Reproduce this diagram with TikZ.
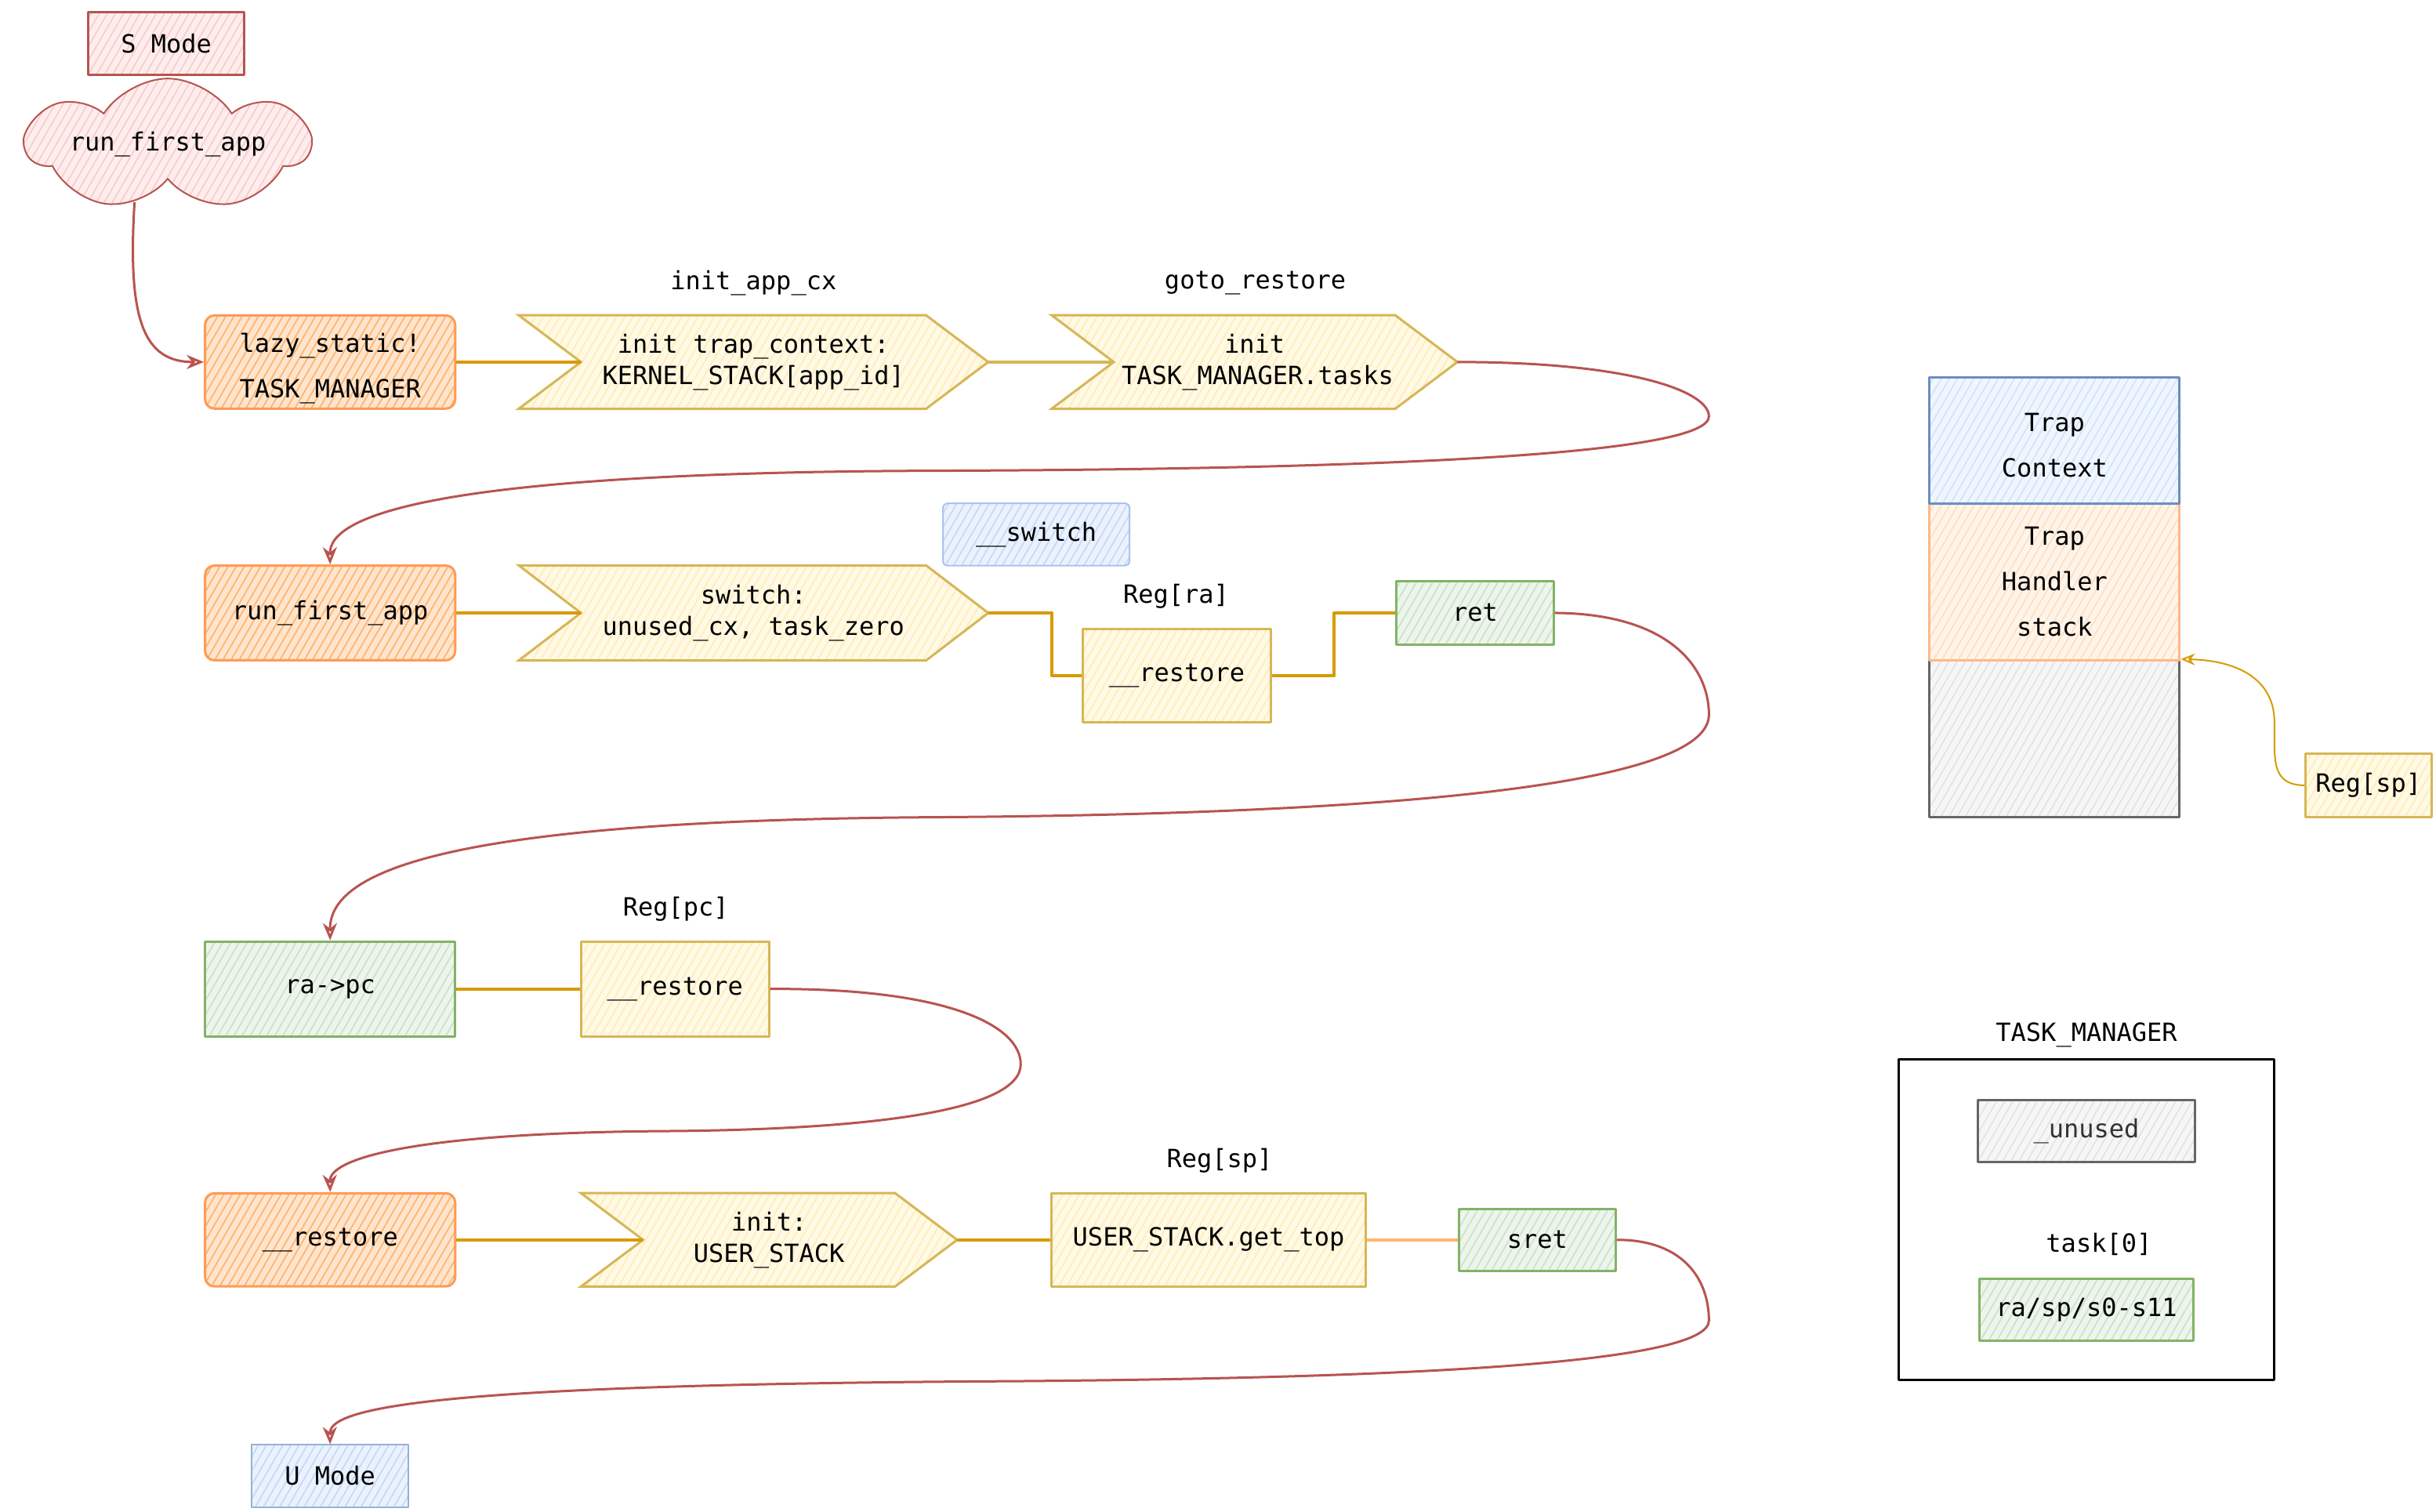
\documentclass[tikz,border=0pt]{standalone}
\usepackage{fontspec}
\setmainfont{DejaVu Sans Mono}
\usetikzlibrary{arrows.meta,shapes.symbols,calc,patterns.meta,backgrounds}

\definecolor{redS}{HTML}{B85450}
\definecolor{redF}{HTML}{F8CECC}
\definecolor{orS}{HTML}{FF9A55}
\definecolor{orF}{HTML}{FFB570}
\definecolor{ltorS}{HTML}{FFB88A}
\definecolor{ltorF}{HTML}{FFE0C2}
\definecolor{yeS}{HTML}{D6B656}
\definecolor{yeF}{HTML}{FFEDB8}
\definecolor{grS}{HTML}{82B366}
\definecolor{grF}{HTML}{CDE3CB}
\definecolor{blS}{HTML}{6C8EBF}
\definecolor{blF}{HTML}{D4E4FB}
\definecolor{lbS}{HTML}{A9C4EB}
\definecolor{lbF}{HTML}{C6DAF8}
\definecolor{gyS}{HTML}{666666}
\definecolor{gyF}{HTML}{E4E4E4}
\definecolor{lineY}{HTML}{D79B00}
\definecolor{lineO}{HTML}{FFB570}
\definecolor{txtgray}{HTML}{333333}

\newcommand{\tightfont}{\fontsize{32}{40}\selectfont}
\newcommand{\loosefont}{\fontsize{32}{58}\selectfont}

% chevron outline drawn behind the text node #1 with style #2
\newcommand{\chevshape}[2]{%
  \begin{scope}[on background layer]
    \draw[#2] (#1.north west) -- ($(#1.north east)+(-40,0)$) -- (#1.east)
      -- ($(#1.south east)+(-40,0)$) -- (#1.south west)
      -- ($(#1.west)+(40,0)$) -- cycle;
  \end{scope}}

\begin{document}
\begin{tikzpicture}[x=1.982pt,y=-1.982pt,
  font=\tightfont,
  line join=round,
  % rectangle node spanning the corners (x1,y1)-(x2,y2)
  span/.style n args={4}{minimum width={(#3-#1)*1.982pt},
    minimum height={(#4-#2)*1.982pt}, at={({(#1+#3)/2},{(#2+#4)/2})}},
  hatch/.style 2 args={draw=#1, line width=3pt,
    preaction={fill=#2!35!white},
    preaction={pattern={Lines[angle=60,distance=9pt,line width=1.8pt]}, pattern color=#2}},
  box/.style={rectangle, inner sep=0pt, align=center},
  conn/.style={draw=lineY, line width=4pt},
  flow/.style={draw=redS, line width=3pt,
    -{Stealth[open, length=22pt, width=18pt, inset=7pt]}},
  spflow/.style={draw=lineY, line width=2pt,
    -{Stealth[open, length=18pt, width=15pt, inset=6pt]}},
  lbl/.style={inner sep=0pt}]

\useasboundingbox (0,0) rectangle (1568,973);

% ---- entry ----
\node[box, hatch={redS}{redF}, span={57}{8}{157}{48}] (smode) {S Mode};
\node[cloud, cloud puffs=7, cloud puff arc=115, aspect=3.8,
      minimum width=360pt, minimum height=80pt, inner sep=0pt,
      hatch={redS}{redF}, line width=2pt] (cloud) at (108,93) {run\_first\_app};

% ---- row 1: lazy_static ----
\node[box, hatch={orS}{orF}, rounded corners=12pt, span={132}{203}{293}{263},
      font=\loosefont] (lazy) {\rule{0pt}{40pt}lazy\_static!\\TASK\_MANAGER};
\node[lbl] (lblA) at (485,182) {init\_app\_cx};
\node[box, span={334}{203}{636}{263}] (chevA) {init trap\_context:\\KERNEL\_STACK[app\_id]};
\chevshape{chevA}{hatch={yeS}{yeF}}
\node[lbl] (lblB) at (808,182) {goto\_restore};
\node[box, span={677}{203}{938}{263}] (chevB) {init\\\hspace*{8pt}TASK\_MANAGER.tasks};
\chevshape{chevB}{hatch={yeS}{yeF}}

\coordinate (chevAin) at ($(chevA.west)+(40,0)$);
\coordinate (chevBin) at ($(chevB.west)+(40,0)$);
\draw[conn] (lazy.east) -- (chevAin);
\draw[conn, draw=yeS] (chevA.east) -- (chevBin);

% ---- row 2: switch ----
\node[box, hatch={orS}{orF}, rounded corners=12pt, span={132}{364}{293}{425}] (rfa) {run\_first\_app};
\node[box, span={334}{364}{636}{425}] (chevC) {switch:\\unused\_cx, task\_zero};
\chevshape{chevC}{hatch={yeS}{yeF}}
\node[box, hatch={lbS}{lbF}, rounded corners=5pt, line width=2pt, span={607}{324}{727}{364}] (sw) {\_\_switch};
\node[lbl] (lblRa) at (757,384) {Reg[ra]};
\node[box, hatch={yeS}{yeF}, span={697}{405}{818}{465}] (rest1) {\_\_restore};
\node[box, hatch={grS}{grF}, span={899}{374}{1000}{415}] (ret) {ret};

\coordinate (chevCin) at ($(chevC.west)+(40,0)$);
\draw[conn] (rfa.east) -- (chevCin);
\draw[conn] (chevC.east) -- ++(41,0) |- (rest1.west);
\draw[conn] (rest1.east) -- ++(40,0) |- (ret.west);

% ---- row 3: ra -> pc ----
\node[box, hatch={grS}{grF}, span={132}{606}{293}{667}] (rapc) {ra->pc};
\node[lbl] (lblPc) at (435,585) {Reg[pc]};
\node[box, hatch={yeS}{yeF}, span={374}{606}{495}{667}] (rest2) {\_\_restore};
\draw[conn] (rapc.east) -- (rest2.west);

% ---- row 4: user stack ----
\node[box, hatch={orS}{orF}, rounded corners=12pt, span={132}{768}{293}{828}] (rest3) {\_\_restore};
\node[box, span={374}{768}{616}{828}] (chevD) {init:\\USER\_STACK};
\chevshape{chevD}{hatch={yeS}{yeF}}
\node[lbl] (lblSp) at (785,747) {Reg[sp]};
\node[box, hatch={yeS}{yeF}, span={677}{768}{879}{828}] (top) {USER\_STACK.get\_top};
\node[box, hatch={grS}{grF}, span={939}{778}{1040}{818}] (sret) {sret};
\node[box, hatch={lbS}{lbF}, draw=blS!70!white, line width=2pt, span={162}{930}{263}{970}] (umode) {U Mode};

\coordinate (chevDin) at ($(chevD.west)+(40,0)$);
\draw[conn] (rest3.east) -- (chevDin);
\draw[conn] (chevD.east) -- (top.west);
\draw[conn, draw=lineO] (top.east) -- (sret.west);

% ---- control flow ----
\draw[flow] (cloud.240) .. controls (82,205) and (92,233) .. (lazy.west);
\draw[flow] (chevB.east) .. controls (1050,233) and (1100,252) .. (1100,268)
  .. controls (1100,292) and (900,302) .. (600,303)
  .. controls (290,304) and (212,330) .. (rfa.north);
\draw[flow] (ret.east) .. controls (1075,395) and (1100,430) .. (1100,460)
  .. controls (1100,505) and (900,524) .. (600,526)
  .. controls (290,528) and (212,560) .. (rapc.north);
\draw[flow] (rest2.east) .. controls (610,636) and (657,660) .. (657,685)
  .. controls (657,715) and (560,727) .. (430,728)
  .. controls (270,729) and (212,745) .. (rest3.north);
\draw[flow] (sret.east) .. controls (1085,798) and (1100,825) .. (1100,850)
  .. controls (1100,878) and (900,887) .. (650,889)
  .. controls (290,891) and (212,905) .. (umode.north);

% ---- kernel stack layout ----
\node[box, hatch={gyS}{gyF}, span={1242}{425}{1403}{526}] (free) {};
\node[box, hatch={ltorS}{ltorF}, span={1242}{324}{1403}{425}, font=\loosefont] (handler) {Trap\\Handler\\stack};
\node[box, hatch={blS}{blF}, span={1242}{243}{1403}{324}, font=\loosefont] (trapcx) {\rule{0pt}{36pt}Trap\\Context};
\node[box, hatch={yeS}{yeF}, span={1484}{485}{1565}{526}] (regsp) {Reg[sp]};
\draw[spflow] (regsp.west) .. controls (1462,505) and (1464,490) .. (1464,465)
  .. controls (1464,437) and (1440,425) .. (free.north east);

% ---- TASK_MANAGER ----
\node[lbl] (tmlbl) at (1343,666) {TASK\_MANAGER};
\node[box, draw=black, line width=3pt, span={1222}{682}{1464}{888}] (tm) {};
\node[box, hatch={gyS}{gyF}, span={1273}{708}{1413}{748}, text=txtgray] (unused) {\_unused};
\node[lbl] (task0) at (1351,801) {task[0]};
\node[box, hatch={grS}{grF}, span={1274}{823}{1412}{863}] (regs) {ra/sp/s0-s11};

\end{tikzpicture}
\end{document}
